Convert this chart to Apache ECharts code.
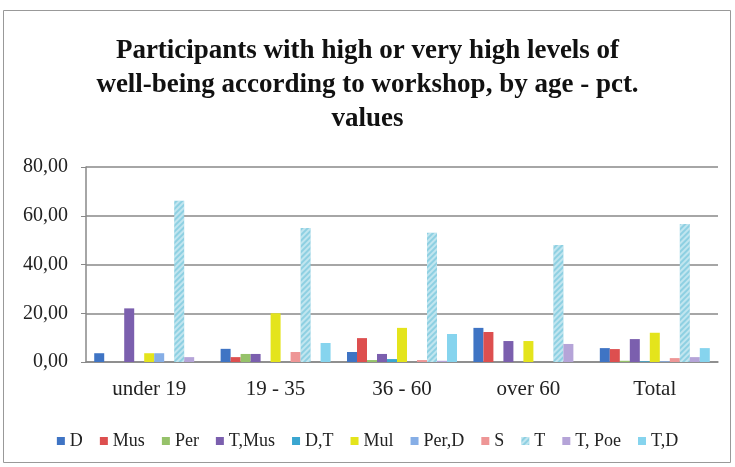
<!DOCTYPE html>
<html>
<head>
<meta charset="utf-8">
<script src="https://cdn.jsdelivr.net/npm/echarts@6/dist/echarts.min.js"></script>
<style>
html, body { margin: 0; padding: 0; background: #fff; }
#main { width: 735px; height: 467px; }
</style>
</head>
<body>
<div id="main"></div>
<script>
// 年龄段
var ageGroups = [ 'under 19', '19 - 35', '36 - 60', 'over 60', 'Total' ];
// 工作坊
var workshops = [ 'D', 'Mus', 'Per', 'T,Mus', 'D,T', 'Mul', 'Per,D', 'S', 'T', 'T, Poe', 'T,D' ];
var workshopColors = [ '#3f74c4', '#dd4f4f', '#96c26a', '#7b5fae', '#3aa6d0', '#e4e41c', '#86aee6', '#ee9696', '#8ed0e2', '#b5a4d8', '#86d4ee' ];
// 每个工作坊在各年龄段的数值 (under 19, 19-35, 36-60, over 60, Total)
var valD = [ 3.6, 5.4, 4.1, 14.0, 5.7 ];
var valMus = [ 0, 2.0, 9.8, 12.3, 5.3 ];
var valPer = [ 0, 3.3, 0.8, 0, 0.5 ];
var valTMus = [ 22.0, 3.3, 3.3, 8.6, 9.4 ];
var valDT = [ 0, 0, 1.2, 0, 0.3 ];
var valMul = [ 3.6, 20.0, 14.0, 8.6, 12.0 ];
var valPerD = [ 3.6, 0, 0, 0, 0.3 ];
var valS = [ 0, 4.1, 0.8, 0, 1.6 ];
var valT = [ 66.2, 55.0, 53.0, 48.0, 56.6 ];
var valTPoe = [ 2.0, 0, 0.5, 7.4, 2.0 ];
var valTD = [ 0, 7.8, 11.5, 0, 5.7 ];
var allValues = [ valD, valMus, valPer, valTMus, valDT, valMul, valPerD, valS, valT, valTPoe, valTD ];
var yTicks = [ 0, 20, 40, 60, 80 ];

var chart = echarts.init(document.getElementById('main'));

var seriesList = [];
for ( var i = 0; i < workshops.length; i++) {
	var s = {
		name : workshops[i],
		type : 'bar',
		data : allValues[i],
		barGap : 0,
		barCategoryGap : '13%',
		itemStyle : {
			color : workshopColors[i]
		}
	};
	if (workshops[i] === 'T') { // T柱子带斜纹
		s.itemStyle.decal = {
			symbol : 'rect',
			symbolSize : 1,
			dashArrayX : [ 1, 0 ],
			dashArrayY : [ 1.5, 2 ],
			rotation : -Math.PI / 4,
			color : 'rgba(255,255,255,0.45)'
		};
	}
	seriesList.push(s);
}

chart.setOption({
	animation : false,
	backgroundColor : '#fff',
	title : {
		text : 'Participants with high or very high levels of\nwell-being according to workshop, by age - pct.\nvalues',
		left : 'center',
		top : 29,
		textStyle : {
			fontFamily : 'Liberation Serif',
			fontWeight : 'bold',
			fontSize : 27,
			lineHeight : 34,
			color : '#111'
		}
	},
	legend : {
		data : workshops,
		top : 427,
		left : 'center',
		itemWidth : 8,
		itemHeight : 8,
		itemGap : 17,
		icon : 'rect',
		textStyle : {
			fontFamily : 'Liberation Serif',
			fontSize : 18,
			color : '#222'
		}
	},
	graphic : [ {
		type : 'rect',
		shape : { x : 3.5, y : 10.5, width : 727, height : 452 },
		style : { fill : 'none', stroke : '#999', lineWidth : 1 }
	} ],
	grid : {
		left : 86,
		right : 17,
		top : 167,
		bottom : 105
	},
	xAxis : {
		type : 'category',
		data : ageGroups,
		axisLine : {
			lineStyle : { color : '#888', width : 1.5 }
		},
		axisTick : {
			length : 5,
			lineStyle : { color : '#888' }
		},
		axisLabel : {
			margin : 17,
			fontFamily : 'Liberation Serif',
			fontSize : 21,
			color : '#222'
		}
	},
	yAxis : {
		type : 'value',
		min : yTicks[0],
		max : yTicks[yTicks.length - 1],
		interval : 20,
		axisLine : {
			show : true,
			lineStyle : { color : '#888', width : 1.5 }
		},
		axisTick : {
			show : true,
			length : 5,
			lineStyle : { color : '#888' }
		},
		splitLine : {
			lineStyle : { color : '#888', width : 1.5 }
		},
		axisLabel : {
			margin : 18,
			fontFamily : 'Liberation Serif',
			fontSize : 20,
			color : '#222',
			formatter : function(v) {
				return v.toFixed(2).replace('.', ',');
			}
		}
	},
	series : seriesList
});
</script>
</body>
</html>
